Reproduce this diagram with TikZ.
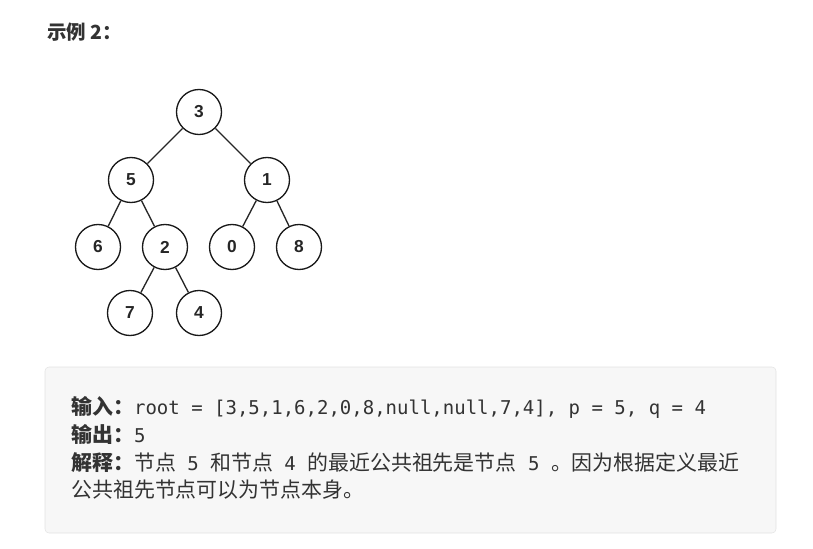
\documentclass[tikz,border=0pt]{standalone}
\usepackage{fontspec}
\setmainfont{Liberation Sans}
\newfontfamily\cjk{Noto Sans CJK SC}
\newfontfamily\code{DejaVu Sans Mono}
\definecolor{LCText}{HTML}{333333}
\definecolor{LCBoxFill}{HTML}{F7F7F7}
\definecolor{LCBoxLine}{HTML}{E3E3E3}
\usetikzlibrary{positioning}
\newcommand\cd[1]{{\code\fontsize{14.25}{18}\selectfont #1}}

\begin{document}
\begin{tikzpicture}[x=0.75pt, y=-0.75pt,
    t/.style={circle, draw=black!90, line width=1pt, minimum size=33.75pt,
      inner sep=0pt, text=black!85, font=\bfseries\fontsize{13}{16}\selectfont},
    e/.style={draw=black!85, line width=1pt},
    ln/.style={anchor=base west, inner sep=0pt, text=LCText,
      font=\cjk\fontsize{15.7}{20}\selectfont}]
    \useasboundingbox (0,0) rectangle (813,549);
    \node[ln, font=\cjk\bfseries\fontsize{14.6}{18}\selectfont] (title) at (47,40) {示例 2：};
    % tree
    \node[t] (n3) at (199,112) {3};
    \node[t] (n5) at (131,180) {5};
    \node[t] (n1) at (267,180) {1};
    \node[t] (n6) at (98,247) {6};
    \node[t] (n2) at (165,247) {2};
    \node[t] (n0) at (232,247) {0};
    \node[t] (n8) at (299,247) {8};
    \node[t] (n7) at (130,313) {7};
    \node[t] (n4) at (199,313) {4};
    \draw[e] (n3)--(n5) (n3)--(n1) (n5)--(n6) (n5)--(n2)
      (n1)--(n0) (n1)--(n8) (n2)--(n7) (n2)--(n4);
    % explanation box
    \draw[fill=LCBoxFill, draw=LCBoxLine, rounded corners=3pt] (45,367) rectangle (776,533);
    \node[ln] (l1) at (71,414) {\textbf{输入：}\cd{root = [3,5,1,6,2,0,8,null,null,7,4], p = 5, q = 4}};
    \node[ln] (l2) at (71,442) {\textbf{输出：}\cd{5}};
    \node[ln] (l3) at (71,470) {\textbf{解释：}节点\cd{ 5 }和节点\cd{ 4 }的最近公共祖先是节点\cd{ 5 }。因为根据定义最近};
    \node[ln] (l4) at (71,497) {公共祖先节点可以为节点本身。};
\end{tikzpicture}
\end{document}
